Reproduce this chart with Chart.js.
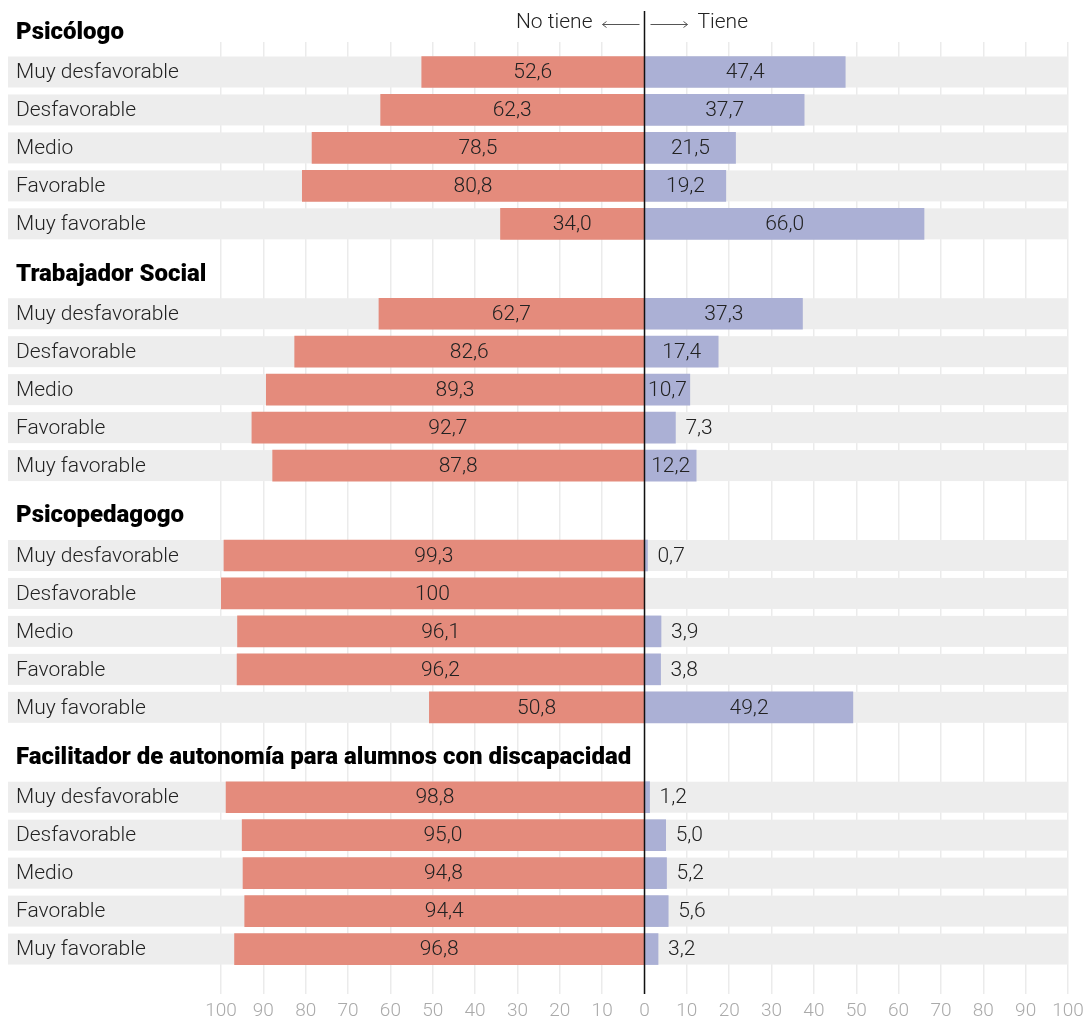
<!DOCTYPE html>
<html>
<head>
<meta charset="utf-8">
<script src="https://cdn.jsdelivr.net/npm/chart.js@4.4.1/dist/chart.umd.min.js"></script>
<style>
  html, body { margin: 0; padding: 0; background: #fff; }
  #wrap { width: 1084px; height: 1019px; position: relative; }
</style>
</head>
<body>
<div id="wrap"><canvas id="chart"></canvas></div>
<script>
const groups = [
  'Psicólogo',
  'Trabajador Social',
  'Psicopedagogo',
  'Facilitador de autonomía para alumnos con discapacidad'
];
const levels = ['Muy desfavorable', 'Desfavorable', 'Medio', 'Favorable', 'Muy favorable'];

const noTiene = [
  [52.6, 62.3, 78.5, 80.8, 34.0],
  [62.7, 82.6, 89.3, 92.7, 87.8],
  [99.3, 100, 96.1, 96.2, 50.8],
  [98.8, 95.0, 94.8, 94.4, 96.8]
];
const tiene = [
  [47.4, 37.7, 21.5, 19.2, 66.0],
  [37.3, 17.4, 10.7, 7.3, 12.2],
  [0.7, 0, 3.9, 3.8, 49.2],
  [1.2, 5.0, 5.2, 5.6, 3.2]
];

const xTicks = [-100, -90, -80, -70, -60, -50, -40, -30, -20, -10, 0, 10, 20, 30, 40, 50, 60, 70, 80, 90, 100];

// vertical layout in row units
const GROUP_STEP = 6.368;
const TITLE_OFFSET = -1.03;
const rowPos = (g, i) => g * GROUP_STEP + i;

const RED = '#E48B7C';
const BLUE = '#ABB0D5';
const BAND = '#EDEDED';
const TEXT = '#222';

const redData = [];
const blueData = [];
const rows = [];
groups.forEach((gName, g) => {
  levels.forEach((lvl, i) => {
    const y = rowPos(g, i);
    redData.push({ x: -noTiene[g][i], y });
    blueData.push({ x: tiene[g][i], y });
    rows.push({ y, label: lvl, no: noTiene[g][i], si: tiene[g][i] });
  });
});

function fmt(v) {
  if (v === 100) return '100';
  return v.toFixed(1).replace('.', ',');
}

const decorPlugin = {
  id: 'decor',
  beforeDatasetsDraw(chart) {
    const { ctx, chartArea, scales } = chart;
    ctx.save();
    ctx.fillStyle = BAND;
    rows.forEach(r => {
      const py = scales.y.getPixelForValue(r.y);
      ctx.fillRect(8, py - 15.5, chartArea.right - 8, 31);
    });
    ctx.restore();
  },
  afterDraw(chart) {
    const { ctx, chartArea, scales } = chart;
    const x0 = scales.x.getPixelForValue(0);
    ctx.save();

    // row labels
    ctx.font = '300 21px Roboto';
    ctx.fillStyle = TEXT;
    ctx.textBaseline = 'middle';
    ctx.textAlign = 'left';
    rows.forEach(r => {
      ctx.fillText(r.label, 16, scales.y.getPixelForValue(r.y) + 1);
    });

    // group titles
    ctx.font = '900 24px Roboto';
    ctx.fillStyle = '#000';
    groups.forEach((gName, g) => {
      ctx.fillText(gName, 16, scales.y.getPixelForValue(g * GROUP_STEP + TITLE_OFFSET));
    });

    // value labels
    ctx.font = '300 21px Roboto';
    ctx.fillStyle = TEXT;
    const redMeta = chart.getDatasetMeta(0);
    const blueMeta = chart.getDatasetMeta(1);
    rows.forEach((r, idx) => {
      const rb = redMeta.data[idx];
      const bb = blueMeta.data[idx];
      if (r.no > 0) {
        ctx.textAlign = 'center';
        ctx.fillText(fmt(r.no), (rb.x + rb.base) / 2, rb.y + 1);
      }
      if (r.si > 0) {
        if (r.si >= 10) {
          ctx.textAlign = 'center';
          ctx.fillText(fmt(r.si), (bb.x + bb.base) / 2, bb.y + 1);
        } else {
          ctx.textAlign = 'left';
          ctx.fillText(fmt(r.si), bb.x + 10, bb.y + 1);
        }
      }
    });

    // zero line
    ctx.strokeStyle = '#111';
    ctx.lineWidth = 1.5;
    ctx.beginPath();
    ctx.moveTo(x0, 11);
    ctx.lineTo(x0, chartArea.bottom);
    ctx.stroke();

    // header
    ctx.font = '300 21px Roboto';
    ctx.fillStyle = TEXT;
    ctx.textBaseline = 'middle';
    ctx.textAlign = 'right';
    ctx.fillText('No tiene', x0 - 52, 23);
    ctx.textAlign = 'left';
    ctx.fillText('Tiene', x0 + 53, 23);

    ctx.strokeStyle = '#555';
    ctx.lineWidth = 1;
    const ay = 24.5;
    // left arrow
    ctx.beginPath();
    ctx.moveTo(x0 - 5, ay);
    ctx.lineTo(x0 - 42, ay);
    ctx.moveTo(x0 - 38, ay - 3);
    ctx.lineTo(x0 - 42, ay);
    ctx.lineTo(x0 - 38, ay + 3);
    ctx.stroke();
    // right arrow
    ctx.beginPath();
    ctx.moveTo(x0 + 6, ay);
    ctx.lineTo(x0 + 43, ay);
    ctx.moveTo(x0 + 39, ay - 3);
    ctx.lineTo(x0 + 43, ay);
    ctx.lineTo(x0 + 39, ay + 3);
    ctx.stroke();

    ctx.restore();
  }
};

new Chart(document.getElementById('chart'), {
  type: 'bar',
  data: {
    datasets: [
      { label: 'No tiene', data: redData, backgroundColor: RED, grouped: false, barThickness: 31, borderWidth: 0 },
      { label: 'Tiene', data: blueData, backgroundColor: BLUE, grouped: false, barThickness: 31, borderWidth: 0 }
    ]
  },
  options: {
    indexAxis: 'y',
    responsive: true,
    maintainAspectRatio: false,
    animation: false,
    layout: { padding: { left: 221, right: 16, top: 42, bottom: 0 } },
    plugins: {
      legend: { display: false },
      tooltip: { enabled: false }
    },
    scales: {
      x: {
        type: 'linear',
        min: -100,
        max: 100,
        z: 1,
        afterBuildTicks: (scale) => { scale.ticks = xTicks.map(v => ({ value: v })); },
        afterFit: (scale) => {
          scale.height = 25;
          scale.paddingLeft = 0;
          scale.paddingRight = 0;
        },
        grid: { color: 'rgba(0,0,0,0.08)', lineWidth: 1.5, drawTicks: false },
        border: { display: false },
        ticks: {
          padding: 6,
          color: '#aaa',
          font: { family: 'Roboto', size: 19, weight: 300 },
          callback: (v) => Math.abs(v)
        }
      },
      y: {
        type: 'linear',
        reverse: true,
        offset: false,
        min: -0.79,
        max: rowPos(3, 4) + 1.184,
        display: false
      }
    }
  },
  plugins: [decorPlugin]
});
</script>
</body>
</html>
